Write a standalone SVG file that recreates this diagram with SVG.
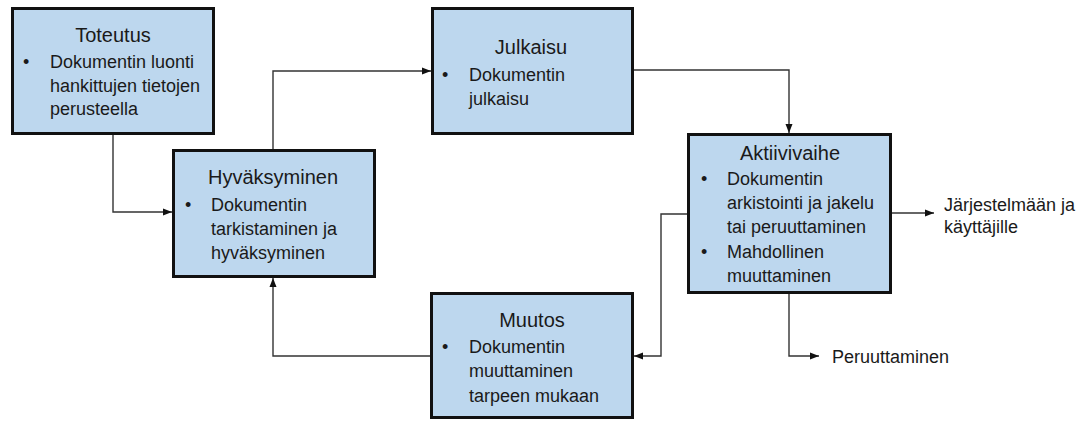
<svg xmlns="http://www.w3.org/2000/svg" width="1084" height="421" viewBox="0 0 1084 421">
  <style>
    .box { fill: #bdd7ee; stroke: #111; stroke-width: 3; }
    .title { font-family: "Liberation Sans", Arial, sans-serif; font-size: 20px; fill: #1a1a1a; text-anchor: middle; }
    .body { font-family: "Liberation Sans", Arial, sans-serif; font-size: 18px; fill: #1a1a1a; }
    .link { fill: none; stroke: #333; stroke-width: 1.4; }
  </style>
  <defs>
    <marker id="arrow" markerUnits="userSpaceOnUse" markerWidth="10" markerHeight="8" refX="9" refY="4" orient="auto">
      <path d="M0,0.5 L9,4 L0,7.5 Z" fill="#111"/>
    </marker>
  </defs>
  <rect width="1084" height="421" fill="#fff"/>

  <!-- connectors -->
  <g id="connectors">
    <path class="link" d="M113 134 V212 H172" marker-end="url(#arrow)"/>
    <path class="link" d="M273 149 V71 H431" marker-end="url(#arrow)"/>
    <path class="link" d="M634 70 H789 V133" marker-end="url(#arrow)"/>
    <path class="link" d="M892 213 H934" marker-end="url(#arrow)"/>
    <path class="link" d="M687 214 H661 V356 H634" marker-end="url(#arrow)"/>
    <path class="link" d="M789 294 V356 H819" marker-end="url(#arrow)"/>
    <path class="link" d="M430 356 H273 V278" marker-end="url(#arrow)"/>
  </g>

  <g id="toteutus">
    <rect class="box" x="12.5" y="8.5" width="201" height="125"/>
    <text class="title" x="113" y="42">Toteutus</text>
    <text class="body" x="23" y="68">•</text>
    <text class="body" x="50" y="68">Dokumentin luonti</text>
    <text class="body" x="50" y="92">hankittujen tietojen</text>
    <text class="body" x="50" y="115">perusteella</text>
  </g>

  <g id="hyvaksyminen">
    <rect class="box" x="173.5" y="150.5" width="201" height="126"/>
    <text class="title" x="273" y="184">Hyväksyminen</text>
    <text class="body" x="185" y="211">•</text>
    <text class="body" x="211" y="211">Dokumentin</text>
    <text class="body" x="211" y="235">tarkistaminen ja</text>
    <text class="body" x="211" y="259">hyväksyminen</text>
  </g>

  <g id="julkaisu">
    <rect class="box" x="432.5" y="8.5" width="200" height="125"/>
    <text class="title" x="531" y="54">Julkaisu</text>
    <text class="body" x="442" y="81">•</text>
    <text class="body" x="469" y="81">Dokumentin</text>
    <text class="body" x="469" y="105">julkaisu</text>
  </g>

  <g id="aktiivivaihe">
    <rect class="box" x="688.5" y="134.5" width="202" height="158"/>
    <text class="title" x="790" y="160">Aktiivivaihe</text>
    <text class="body" x="701" y="185">•</text>
    <text class="body" x="727" y="185">Dokumentin</text>
    <text class="body" x="727" y="209">arkistointi ja jakelu</text>
    <text class="body" x="727" y="233">tai peruuttaminen</text>
    <text class="body" x="701" y="258">•</text>
    <text class="body" x="727" y="258">Mahdollinen</text>
    <text class="body" x="727" y="282">muuttaminen</text>
  </g>

  <g id="muutos">
    <rect class="box" x="431.5" y="293.5" width="201" height="124"/>
    <text class="title" x="532" y="327">Muutos</text>
    <text class="body" x="442" y="353">•</text>
    <text class="body" x="469" y="353">Dokumentin</text>
    <text class="body" x="469" y="377">muuttaminen</text>
    <text class="body" x="469" y="402">tarpeen mukaan</text>
  </g>

  <g id="jarjestelmaan">
    <text class="body" x="944" y="211">Järjestelmään ja</text>
    <text class="body" x="944" y="233">käyttäjille</text>
  </g>

  <g id="peruuttaminen">
    <text class="body" x="832" y="363">Peruuttaminen</text>
  </g>
</svg>
